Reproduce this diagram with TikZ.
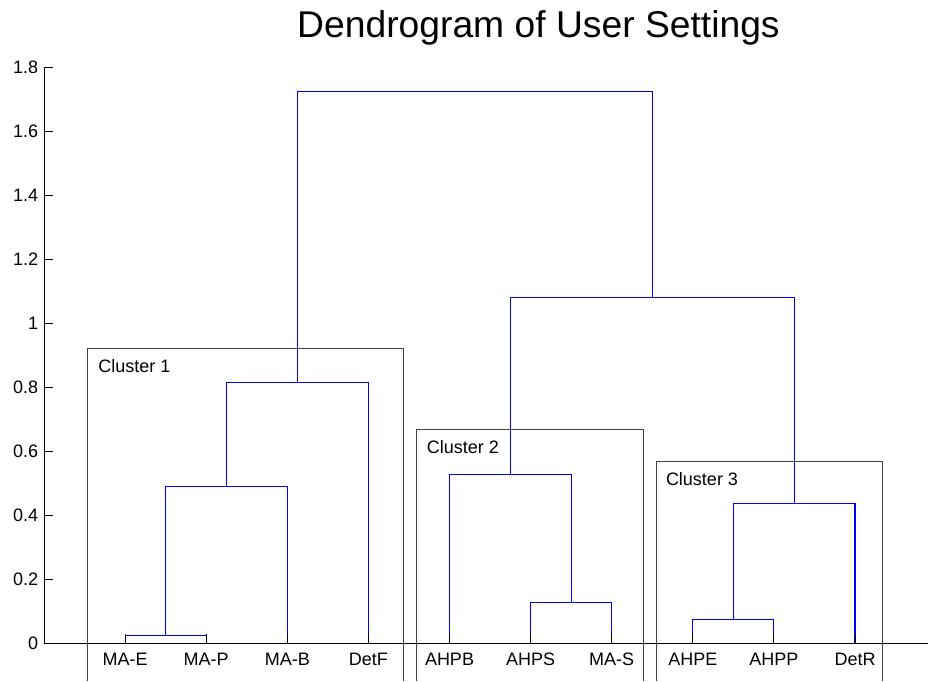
\documentclass[tikz,border=0pt]{standalone}
\usepackage{fontspec}
\setmainfont{Liberation Sans}
\usepackage{tikz}
\usetikzlibrary{calc, positioning}

\begin{document}
\begin{tikzpicture}[x=2.0275cm, y=8cm,
    link/.style={blue, line width=0.75pt},
    clusterbox/.style={black!75, line width=0.7pt},
    axisline/.style={black, line width=0.7pt},
    lbl/.style={inner sep=0pt, font=\fontsize{12.8}{15}\selectfont}]
    \useasboundingbox (-0.5425,-0.11875) rectangle (10.9,2.009375);

    % 1. Leaves on the horizontal axis
    \foreach \name/\txt [count=\i] in {mae/MA-E, map/MA-P, mab/MA-B, detf/DetF,
        ahpb/AHPB, ahps/AHPS, mas/MA-S, ahpe/AHPE, ahpp/AHPP, detr/DetR} {
        \coordinate (\name) at (\i,0);
        \node[lbl, anchor=base] (\name-lbl) at (\i,-0.069) {\txt};
    }

    % 2. Merge points (x = middle of the two children, y = distance)
    \coordinate (m1) at (1.5,0.022);
    \coordinate (m2) at (2.25,0.49);
    \coordinate (m3) at (3.125,0.815);
    \coordinate (m4) at (6.5,0.127);
    \coordinate (m5) at (5.75,0.528);
    \coordinate (m6) at (8.5,0.073);
    \coordinate (m7) at (9.25,0.436);
    \coordinate (m8) at (7.5,1.081);
    \coordinate (m9) at (5.3125,1.723);

    % 3. Dendrogram links
    \draw[link] (mae) |- (m1) -| (map);
    \draw[link] (m1) |- (m2) -| (mab);
    \draw[link] (m2) |- (m3) -| (detf);
    \draw[link] (ahps) |- (m4) -| (mas);
    \draw[link] (ahpb) |- (m5) -| (m4);
    \draw[link] (ahpe) |- (m6) -| (ahpp);
    \draw[link] (m6) |- (m7) -| (detr);
    \draw[link] (m5) |- (m8) -| (m7);
    \draw[link] (m3) |- (m9) -| (m8);

    % 4. Axes, ticks and tick labels
    \draw[axisline] (0,1.8) -- (0,0) -- (10.95,0);
    \foreach \h [count=\i] in {0,0.2,0.4,0.6,0.8,1,1.2,1.4,1.6,1.8} {
        \draw[axisline] (0,\h) -- ++(0.111,0);
        \node[lbl, anchor=east] (tick\i) at (-0.068,\h) {\h};
    }
    \foreach \i in {1,...,10}
        \draw[axisline] (\i,0) -- ++(0,0.028);

    % 5. Cluster boxes (open at the bottom)
    \draw[clusterbox] (0.536,-0.12) |- (4.427,0.919) -- (4.427,-0.12);
    \node[lbl, anchor=base west] (c1) at (0.666,0.844) {Cluster 1};
    \draw[clusterbox] (4.587,-0.12) |- (7.398,0.666) -- (7.398,-0.12);
    \node[lbl, anchor=base west] (c2) at (4.719,0.591) {Cluster 2};
    \draw[clusterbox] (7.552,-0.12) |- (10.337,0.5666) -- (10.337,-0.12);
    \node[lbl, anchor=base west] (c3) at (7.666,0.493) {Cluster 3};

    % 6. Title
    \node[inner sep=0pt, anchor=base east, font=\fontsize{26.5}{30}\selectfont]
        (title) at (9.075,1.8916) {Dendrogram of User Settings};
\end{tikzpicture}
\end{document}
